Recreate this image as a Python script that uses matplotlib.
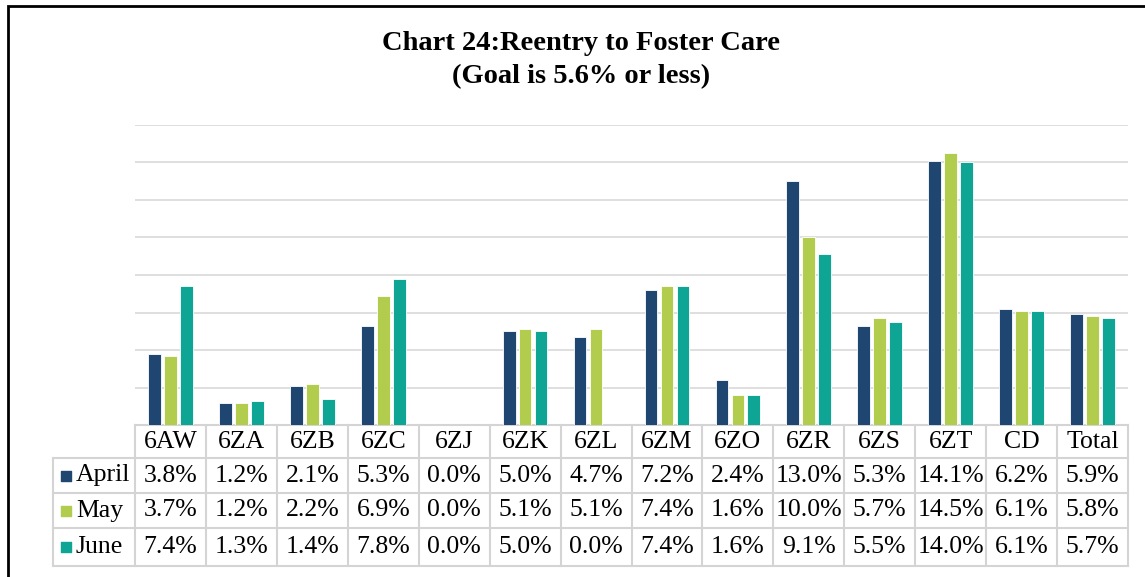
import numpy as np
import matplotlib.pyplot as plt
from matplotlib.patches import Rectangle

units = ['6AW', '6ZA', '6ZB', '6ZC', '6ZJ', '6ZK', '6ZL', '6ZM', '6ZO', '6ZR', '6ZS', '6ZT', 'CD', 'Total']
april = [3.8, 1.2, 2.1, 5.3, 0.0, 5.0, 4.7, 7.2, 2.4, 13.0, 5.3, 14.1, 6.2, 5.9]
may = [3.7, 1.2, 2.2, 6.9, 0.0, 5.1, 5.1, 7.4, 1.6, 10.0, 5.7, 14.5, 6.1, 5.8]
june = [7.4, 1.3, 1.4, 7.8, 0.0, 5.0, 0.0, 7.4, 1.6, 9.1, 5.5, 14.0, 6.1, 5.7]
months = ['April', 'May', 'June']
colors = ['#1F4670', '#B2CC4D', '#0FA594']

plt.rcParams['font.family'] = ['Liberation Serif', 'DejaVu Serif']

W, H = 1145, 577
fig = plt.figure(figsize=(W / 100, H / 100), dpi=100)

# outer frame (runs off right and bottom edges)
fig.patches.append(Rectangle((8 / W, -0.1), 1.2, 1 - 6 / H + 0.1, transform=fig.transFigure,
                             fill=False, edgecolor='black', linewidth=2))

ax_left, ax_right, ax_bottom, ax_top = 135, 1128, 425, 125
ax = fig.add_axes([ax_left / W, 1 - ax_bottom / H, (ax_right - ax_left) / W, (ax_bottom - ax_top) / H])

x = np.arange(len(units))
width = 0.18
step = 0.225
for k, (vals, c) in enumerate(zip([april, may, june], colors)):
    ax.bar(x + (k - 1) * step, vals, width=width, color=c, edgecolor='white', linewidth=0.6, zorder=3)

ax.set_xlim(-0.5, len(units) - 0.5)
ax.set_ylim(0, 16)
ax.set_yticks(np.arange(2, 17, 2))
ax.yaxis.grid(True, color='#d9d9d9', linewidth=1.2, zorder=0)
ax.set_xticks([])
ax.tick_params(left=False, labelleft=False)
for s in ax.spines.values():
    s.set_visible(False)

fig.text(581 / W, 1 - 44 / H, 'Chart 24:Reentry to Foster Care', ha='center', va='center',
         fontsize=20.5, fontweight='bold')
fig.text(581 / W, 1 - 77 / H, '(Goal is 5.6% or less)', ha='center', va='center',
         fontsize=20.5, fontweight='bold')

# data table drawn below the axes
axh = ax_bottom - ax_top
row_edges_px = [425, 458, 493, 528, 566]
row_edges = [(ax_bottom - r) / axh for r in row_edges_px]
trans = ax.get_xaxis_transform()
line_kw = dict(color='#d4d4d4', linewidth=1.5, clip_on=False, transform=trans)
px_unit = len(units) / (ax_right - ax_left)
lab_left = (53 - ax_left) * px_unit - 0.5

# horizontal lines
ax.plot([-0.5, len(units) - 0.5], [row_edges[0]] * 2, **line_kw)
for r in row_edges[1:]:
    ax.plot([lab_left, len(units) - 0.5], [r, r], **line_kw)
# vertical lines
for i in range(len(units) + 1):
    ax.plot([i - 0.5, i - 0.5], [row_edges[0], row_edges[-1]], **line_kw)
ax.plot([lab_left, lab_left], [row_edges[1], row_edges[-1]], **line_kw)

fs = 18.5
for i, u in enumerate(units):
    yc = (row_edges[0] + row_edges[1]) / 2
    ax.text(i, yc, u, ha='center', va='center', fontsize=fs, transform=trans, clip_on=False)
for j, (m, vals, c) in enumerate(zip(months, [april, may, june], colors)):
    yc = (row_edges[j + 1] + row_edges[j + 2]) / 2
    for i, v in enumerate(vals):
        ax.text(i, yc, f'{v:.1f}%', ha='center', va='center', fontsize=fs, transform=trans, clip_on=False)
    ax.text(lab_left + 23 * px_unit, yc, m, ha='left', va='center', fontsize=fs, transform=trans, clip_on=False)
    ax.scatter([lab_left + 13 * px_unit], [yc], marker='s', s=60, color=c, transform=trans, clip_on=False)

fig.savefig('out.png', dpi=100)
